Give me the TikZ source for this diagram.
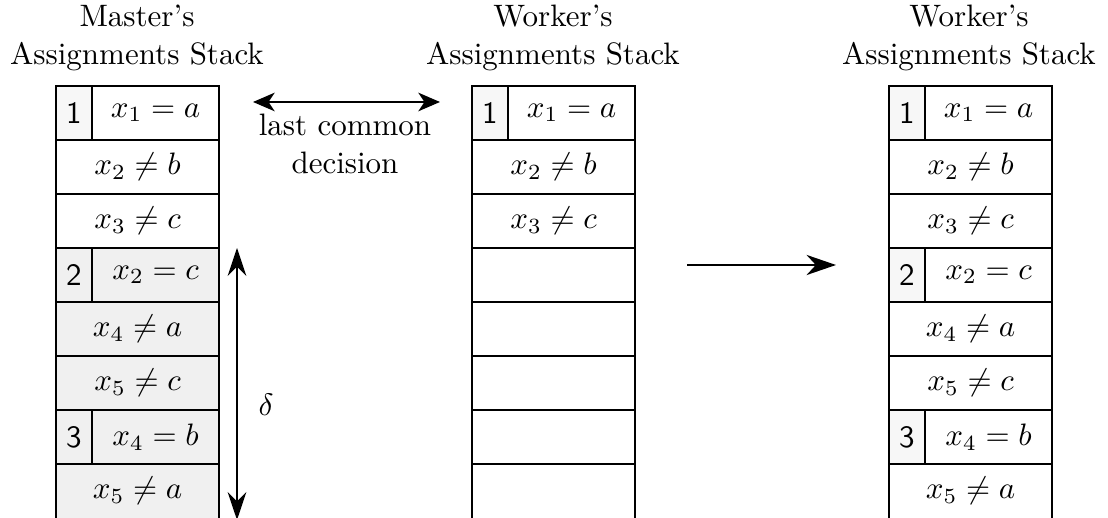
\documentclass[tikz,border=0pt]{standalone}
\usetikzlibrary{arrows.meta}
\begin{document}
\begin{tikzpicture}[x=0.3226pt,y=-0.3226pt,
  row/.style={draw,line width=0.6pt,minimum width=52.6pt,minimum height=17.42pt,inner sep=0pt,outer sep=0pt,anchor=north west},
  lastrow/.style={row,minimum height=20pt},
  shade/.style={fill=black!6},
  num/.style={draw,line width=0.6pt,minimum width=11.6pt,minimum height=17.42pt,inner sep=0pt,outer sep=0pt,anchor=north west,font=\sffamily,fill=black!3},
  title/.style={align=center,inner sep=0pt},
  arr/.style={line width=0.6pt,-{Stealth[length=9.5pt,width=6.5pt,inset=3pt]}},
  darr/.style={line width=0.6pt,{Stealth[length=7pt,width=6pt,inset=2pt]}-{Stealth[length=7pt,width=6pt,inset=2pt]}},
  varr/.style={line width=0.6pt,{Stealth[length=9pt,width=6pt,inset=3pt]}-{Stealth[length=9pt,width=6pt,inset=3pt]}}]
\useasboundingbox (0,0) rectangle (1108,518);
% titles
\node[title] (tm) at (137,38) {Master's\\Assignments Stack};
\node[title] (tw) at (553,38) {Worker's\\Assignments Stack};
\node[title] (tr) at (969,38) {Worker's\\Assignments Stack};
% master stack
\node[row] (m1) at (56,86) {};
\node[num] (m1n) at (56,86) {1};
\node (m1t) at (155.5,113) {$x_1 = a$};
\node[row] (m2) at (56,140) {$x_2 \neq b$};
\node[row] (m3) at (56,194) {$x_3 \neq c$};
\node[row,shade] (m4) at (56,248) {};
\node[num,shade] (m4n) at (56,248) {2};
\node (m4t) at (155.5,275) {$x_2 = c$};
\node[row,shade] (m5) at (56,302) {$x_4 \neq a$};
\node[row,shade] (m6) at (56,356) {$x_5 \neq c$};
\node[row,shade] (m7) at (56,410) {};
\node[num,shade] (m7n) at (56,410) {3};
\node (m7t) at (155.5,437) {$x_4 = b$};
\node[lastrow,shade] (m8) at (56,464) {};
\node (m8t) at (137.5,491) {$x_5 \neq a$};
% worker stack (middle)
\node[row] (w1) at (472,86) {};
\node[num] (w1n) at (472,86) {1};
\node (w1t) at (571.5,113) {$x_1 = a$};
\node[row] (w2) at (472,140) {$x_2 \neq b$};
\node[row] (w3) at (472,194) {$x_3 \neq c$};
\node[row] (w4) at (472,248) {};
\node[row] (w5) at (472,302) {};
\node[row] (w6) at (472,356) {};
\node[row] (w7) at (472,410) {};
\node[lastrow] (w8) at (472,464) {};
% worker stack (right)
\node[row] (r1) at (889,86) {};
\node[num] (r1n) at (889,86) {1};
\node (r1t) at (988.5,113) {$x_1 = a$};
\node[row] (r2) at (889,140) {$x_2 \neq b$};
\node[row] (r3) at (889,194) {$x_3 \neq c$};
\node[row] (r4) at (889,248) {};
\node[num] (r4n) at (889,248) {2};
\node (r4t) at (988.5,275) {$x_2 = c$};
\node[row] (r5) at (889,302) {$x_4 \neq a$};
\node[row] (r6) at (889,356) {$x_5 \neq c$};
\node[row] (r7) at (889,410) {};
\node[num] (r7n) at (889,410) {3};
\node (r7t) at (988.5,437) {$x_4 = b$};
\node[lastrow] (r8) at (889,464) {};
\node (r8t) at (970.5,491) {$x_5 \neq a$};
% last common decision
\coordinate (lc1) at (253,102);
\coordinate (lc2) at (440,102);
\draw[darr] (lc1) -- (lc2);
\node[align=center,inner sep=0pt] (lcd) at (345,144) {last common\\decision};
% delta
\coordinate (d1) at (237,248);
\coordinate (d2) at (237,520);
\draw[varr] (d1) -- (d2);
\node (delta) at (266,405) {$\delta$};
% transition arrow
\coordinate (t1) at (687,265);
\coordinate (t2) at (836,265);
\draw[arr] (t1) -- (t2);
\end{tikzpicture}
\end{document}
